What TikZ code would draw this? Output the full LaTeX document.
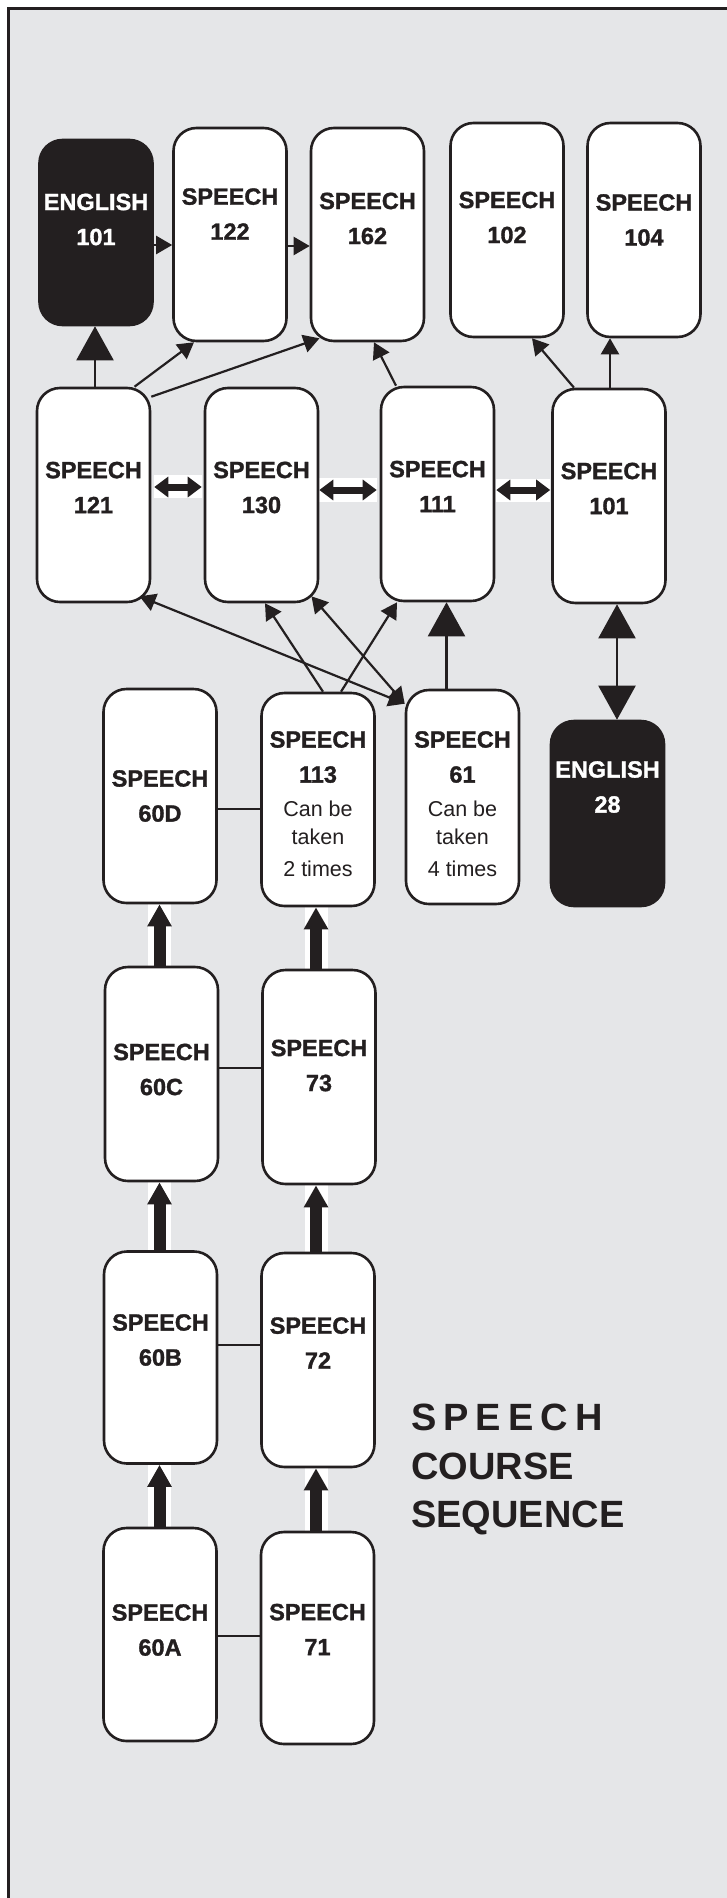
\documentclass[tikz,border=0pt]{standalone}
\usepackage{fontspec}
\setmainfont{Liberation Sans}
\newfontfamily\heavyfont[FakeBold=1.3]{Liberation Sans}
\newcommand\notefont{\normalfont\fontsize{21.5}{30}\selectfont}
\usetikzlibrary{arrows.meta,backgrounds}
\definecolor{ink}{RGB}{35,31,32}
\definecolor{panel}{RGB}{229,230,232}

\begin{document}
\begin{tikzpicture}
	[x=1pt, y=-1pt,
	 course/.style={rectangle, rounded corners=23pt, draw=ink, line width=2.6pt, fill=white,
	                minimum width=113pt, minimum height=214pt, inner sep=0pt},
	 required/.style={course, fill=ink},
	 cname/.style={font=\heavyfont\bfseries\fontsize{23.5}{35}\selectfont, align=center, text=ink, inner sep=0pt},
	 rname/.style={cname, text=white},
	 link/.style={draw=ink, line width=2.2pt, >={Triangle[width=18pt,length=16pt]}},
	 biglink/.style={draw=ink, line width=2.2pt, >={Triangle[width=37pt,length=34pt]}},
	 swap/.style={draw=ink, line width=7pt, <->, >={Triangle[width=20pt,length=14pt]}},
	 climb/.style={draw=ink, line width=12pt, ->, >={Triangle[width=23pt,length=22pt]}},
	 gap/.style={fill=white}]
	\useasboundingbox (0,0) rectangle (726,1898);

	% top row
	\node[required, minimum height=185pt, label={[rname,yshift=13pt]center:{ENGLISH\\101}}] (e101) at (96,232.5) {};
	\node[course, minimum height=213pt, label={[cname,yshift=20.5pt]center:{SPEECH\\122}}] (s122) at (230,234.5) {};
	\node[course, minimum height=213pt, label={[cname,yshift=16pt]center:{SPEECH\\162}}] (s162) at (367.5,234.5) {};
	\node[course, label={[cname,yshift=12.5pt]center:{SPEECH\\102}}] (s102) at (507,230) {};
	\node[course, label={[cname,yshift=10pt]center:{SPEECH\\104}}] (s104) at (644,230) {};

	% second row
	\node[course, label={[cname,yshift=7.5pt]center:{SPEECH\\121}}] (s121) at (93.5,495) {};
	\node[course, label={[cname,yshift=7.5pt]center:{SPEECH\\130}}] (s130) at (261.5,495) {};
	\node[course, label={[cname,yshift=7.5pt]center:{SPEECH\\111}}] (s111) at (437.5,494) {};
	\node[course, label={[cname,yshift=7.5pt]center:{SPEECH\\101}}] (s101) at (609,496) {};

	% third row
	\node[course, label={[cname]center:{SPEECH\\60D}}] (s60D) at (160,796) {};
	\node[course, minimum height=213pt, label={[cname,yshift=-4.5pt]center:{SPEECH\\113\\[-1pt]\notefont Can be\\[-7pt]\notefont taken\\[-3pt]\notefont 2 times}}] (s113) at (318,799.5) {};
	\node[course, label={[cname,yshift=-7pt]center:{SPEECH\\61\\[-1pt]\notefont Can be\\[-7pt]\notefont taken\\[-3pt]\notefont 4 times}}] (s61) at (462.5,797) {};
	\node[required, minimum height=185pt, label={[rname,yshift=26.5pt]center:{ENGLISH\\28}}] (e28) at (607.5,813.5) {};

	% the two columns
	\node[course, label={[cname,yshift=4.5pt]center:{SPEECH\\60C}}] (s60C) at (161.5,1074) {};
	\node[course, label={[cname,yshift=11.5pt]center:{SPEECH\\73}}] (s73) at (319,1077) {};
	\node[course, minimum height=212pt, label={[cname,yshift=17.5pt]center:{SPEECH\\60B}}] (s60B) at (160.5,1357.5) {};
	\node[course, label={[cname,yshift=17pt]center:{SPEECH\\72}}] (s72) at (318,1360) {};
	\node[course, minimum height=213pt, label={[cname,yshift=4.5pt]center:{SPEECH\\60A}}] (s60A) at (160,1634.5) {};
	\node[course, minimum height=212pt, label={[cname,yshift=8.5pt]center:{SPEECH\\71}}] (s71) at (317.5,1638) {};

	\node[anchor=north west, align=left, inner sep=0pt, text=ink,
	      font=\bfseries\fontsize{38}{48.5}\selectfont] (title) at (411,1404)
	      {\spaceskip=7pt S P E E C H\\COURSE\\SEQUENCE};

	\begin{scope}[on background layer]
		\fill[white] (0,0) rectangle (726,1898);
		\draw[ink, line width=2.5pt, fill=panel] (8.5,8.5) rectangle (760,1930);

		% into the top row
		\draw[link,->] ([yshift=-12.5pt]e101.east) -- ([yshift=-12.5pt]e101.east -| s122.west);
		\draw[link,->] ([yshift=-11.5pt]s122.east) -- ([yshift=-11.5pt]s122.east -| s162.west);
		\draw[biglink,->] ([xshift=1.5pt]s121.north) -- ([xshift=1.5pt]s121.north |- e101.south);
		\draw[link,->] ([xshift=41pt]s121.north) -- ([xshift=-36pt]s122.south);
		\draw[link,->] ([yshift=-10pt]s121.north east) -- ([xshift=-48pt,yshift=4pt]s162.south);
		\draw[link,->] ([xshift=-41.5pt]s111.north) -- ([xshift=6.5pt]s162.south);
		\draw[link,->] ([xshift=-35pt]s101.north) -- ([xshift=25pt]s102.south);
		\draw[link,->] ([xshift=1pt]s101.north) -- ([xshift=1pt]s101.north |- s104.south);

		% across the second row
		\fill[gap] ([xshift=3pt,yshift=20pt]s121.east) rectangle ([xshift=-2pt,yshift=-3pt]s130.west);
		\draw[swap] ([xshift=3pt,yshift=8pt]s121.east) -- ([xshift=-2pt,yshift=8pt]s130.west);
		\fill[gap] ([yshift=17pt]s130.east) rectangle ([xshift=-3pt,yshift=-8pt]s111.west);
		\draw[swap] ([yshift=5pt]s130.east) -- ([xshift=-3pt,yshift=4pt]s111.west);
		\fill[gap] ([xshift=1pt,yshift=15pt]s111.east) rectangle ([xshift=-1pt,yshift=-6pt]s101.west);
		\draw[swap] ([xshift=1pt,yshift=4pt]s111.east) -- ([xshift=-1pt,yshift=6pt]s101.west);

		% into the second row
		\draw[link,<->] ([xshift=46pt,yshift=7pt]s121.south) -- ([yshift=-15pt]s61.north west);
		\draw[link,<->] ([xshift=50pt,yshift=7pt]s130.south) -- ([yshift=-15pt]s61.north west);
		\draw[link,->] ([xshift=5pt]s113.north) -- ([xshift=3.5pt]s130.south);
		\draw[link,->] ([xshift=23pt]s113.north) -- ([xshift=-40.5pt]s111.south);
		\draw[biglink,->] ([xshift=-16pt]s61.north) -- ([xshift=-16pt]s61.north |- s111.south);
		\draw[biglink,<->] ([xshift=8pt]s101.south) -- ([xshift=8pt]s101.south |- e28.north);

		% side by side
		\draw[link] ([yshift=-13pt]s60D.east) -- ([yshift=-13pt]s60D.east -| s113.west);
		\draw[link] ([yshift=6pt]s60C.east) -- ([yshift=6pt]s60C.east -| s73.west);
		\draw[link] ([yshift=12.5pt]s60B.east) -- ([yshift=12.5pt]s60B.east -| s72.west);
		\draw[link] ([yshift=-1.5pt]s60A.east) -- ([yshift=-1.5pt]s60A.east -| s71.west);

		% up the columns
		\fill[gap] ([xshift=-13.5pt]s60C.north) rectangle ([xshift=9.5pt]s60C.north |- s60D.south);
		\draw[climb] ([xshift=-2pt]s60C.north) -- ([xshift=-2pt]s60C.north |- s60D.south);
		\fill[gap] ([xshift=-12.5pt]s60B.north) rectangle ([xshift=10.5pt]s60B.north |- s60C.south);
		\draw[climb] ([xshift=-1pt]s60B.north) -- ([xshift=-1pt]s60B.north |- s60C.south);
		\fill[gap] ([xshift=-12pt]s60A.north) rectangle ([xshift=11pt]s60A.north |- s60B.south);
		\draw[climb] ([xshift=-0.5pt]s60A.north) -- ([xshift=-0.5pt]s60A.north |- s60B.south);
		\fill[gap] ([xshift=-14.5pt]s73.north) rectangle ([xshift=8.5pt]s73.north |- s113.south);
		\draw[climb] ([xshift=-3pt]s73.north) -- ([xshift=-3pt]s73.north |- s113.south);
		\fill[gap] ([xshift=-13.5pt]s72.north) rectangle ([xshift=9.5pt]s72.north |- s73.south);
		\draw[climb] ([xshift=-2pt]s72.north) -- ([xshift=-2pt]s72.north |- s73.south);
		\fill[gap] ([xshift=-13pt]s71.north) rectangle ([xshift=10pt]s71.north |- s72.south);
		\draw[climb] ([xshift=-1.5pt]s71.north) -- ([xshift=-1.5pt]s71.north |- s72.south);
	\end{scope}
\end{tikzpicture}
\end{document}
